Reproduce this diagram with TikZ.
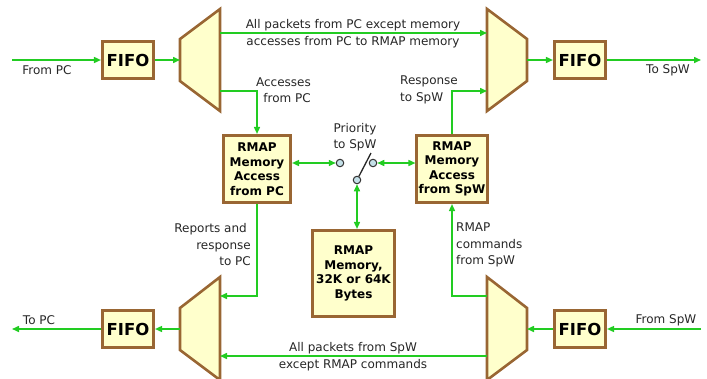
\documentclass[tikz,border=0pt]{standalone}
\usepackage{fontspec}
\setmainfont{DejaVu Sans}
\usetikzlibrary{positioning,calc,arrows.meta}

\definecolor{boxfill}{HTML}{FFFFCC}
\definecolor{boxline}{HTML}{996633}
\definecolor{wirecol}{HTML}{22CC22}
\definecolor{contactfill}{HTML}{C4E0E8}

\begin{document}
\begin{tikzpicture}
[
   x=1pt, y=-1pt,
   line join=miter
]

\tikzset{blk/.style = {draw=boxline, fill=boxfill, line width=2.6pt, align=center, inner sep=0pt, text=black, font=\bfseries\fontsize{12}{14.5}\selectfont}}
\tikzset{fifo/.style = {blk, minimum width=51.5, minimum height=37.5, font=\bfseries\fontsize{16.5}{18}\selectfont}}
\tikzset{mux/.style = {draw=boxline, fill=boxfill, line width=2.6pt}}
\tikzset{wire/.style = {draw=wirecol, line width=1.5pt, -{Triangle[length=7pt,width=6pt]}}}
\tikzset{dwire/.style = {wire, {Triangle[length=7pt,width=6pt]}-{Triangle[length=7pt,width=6pt]}}}
\tikzset{contact/.style = {circle, draw=black!80, fill=contactfill, line width=1pt, minimum size=7.5pt, inner sep=0pt}}
\tikzset{lbl/.style = {inner sep=0pt, text=black!85, font=\fontsize{12}{16.5}\selectfont}}

\useasboundingbox (0,0) rectangle (707,378);

% muxes
\draw[mux] (180,39) -- (220,9) -- (220,111) -- (180,81) -- cycle;
\draw[mux] (487,9) -- (527,39) -- (527,81) -- (487,111) -- cycle;
\draw[mux] (180,308) -- (220,277) -- (220,380) -- (180,350) -- cycle;
\draw[mux] (487,277) -- (527,308) -- (527,350) -- (487,380) -- cycle;
\coordinate (muxA-in) at (180,60);
\coordinate (muxA-o1) at (220,33);
\coordinate (muxA-o2) at (220,91);
\coordinate (muxB-i1) at (487,33);
\coordinate (muxB-i2) at (487,91);
\coordinate (muxB-out) at (527,60);
\coordinate (muxC-i1) at (220,296);
\coordinate (muxC-i2) at (220,356);
\coordinate (muxC-out) at (180,329);
\coordinate (muxD-in) at (527,329);
\coordinate (muxD-o1) at (487,296);
\coordinate (muxD-o2) at (487,356);

% nodes
\node[fifo] (fifoA) at (128,60) {FIFO};
\node[fifo] (fifoB) at (580,60) {FIFO};
\node[fifo] (fifoC) at (128,329) {FIFO};
\node[fifo] (fifoD) at (580,329) {FIFO};
\node[blk, minimum width=67.5, minimum height=67.5] (rmapPC) at (257,169) {RMAP\\Memory\\Access\\from PC};
\node[blk, minimum width=70.5, minimum height=67.5] (rmapSpW) at (452,169) {RMAP\\Memory\\Access\\from SpW};
\node[blk, minimum width=82.5, minimum height=86.5] (mem) at (353.5,273.5) {RMAP\\Memory,\\32K or 64K\\Bytes};
\node[contact] (swL) at (340,163) {};
\node[contact] (swR) at (373,163) {};
\node[contact] (pivot) at (357,180) {};
\coordinate (lever) at (371,153);
\coordinate (pcin) at (12,60);
\coordinate (pcout) at (12,329);
\coordinate (spwout) at (701,60);
\coordinate (spwin) at (701,329);

% labels
\node[lbl] (lfrompc) at (47,70) {From PC};
\node[lbl] (ltospw) at (668,70) {To SpW};
\node[lbl] (ltopc) at (39,320) {To PC};
\node[lbl] (lfromspw) at (666,320) {From SpW};
\node[lbl, align=center] (lpcpkt) at (353,33.5) {All packets from PC except memory\\accesses from PC to RMAP memory};
\node[lbl, align=center] (lspwpkt) at (353,356.5) {All packets from SpW\\except RMAP commands};
\node[lbl, align=right, anchor=east] (lacc) at (311,90) {Accesses\\from PC};
\node[lbl, align=left, anchor=west] (lresp) at (400,90) {Response\\to SpW};
\node[lbl, align=center] (lprio) at (355,137) {Priority\\to SpW};
\node[lbl, align=right, anchor=east] (lrep) at (251,245) {Reports and\kern4pt\\response\\to PC};
\node[lbl, align=left, anchor=west] (lcmd) at (456,245) {RMAP\\commands\\from SpW};

% arcs
\draw[wire] (pcin) -- (fifoA);
\draw[wire] (fifoA) -- (muxA-in);
\draw[wire] (muxA-o1) -- (muxB-i1);
\draw[wire] (muxA-o2) -| (rmapPC.north);
\draw[wire] (rmapSpW.north) |- (muxB-i2);
\draw[wire] (muxB-out) -- (fifoB);
\draw[wire] (fifoB) -- (spwout);
\draw[dwire] (rmapPC.east |- swL) -- (swL);
\draw[dwire] (swR) -- (swR -| rmapSpW.west);
\draw[dwire] (pivot) -- (pivot |- mem.north);
\draw[line width=1.3pt, black!85] (pivot) -- (lever);
\draw[wire] (rmapPC.south) |- (muxC-i1);
\draw[wire] (muxD-o1) -| (rmapSpW.south);
\draw[wire] (muxD-o2) -- (muxC-i2);
\draw[wire] (spwin) -- (fifoD);
\draw[wire] (fifoD) -- (muxD-in);
\draw[wire] (muxC-out) -- (fifoC);
\draw[wire] (fifoC) -- (pcout);
\end{tikzpicture}
\end{document}
